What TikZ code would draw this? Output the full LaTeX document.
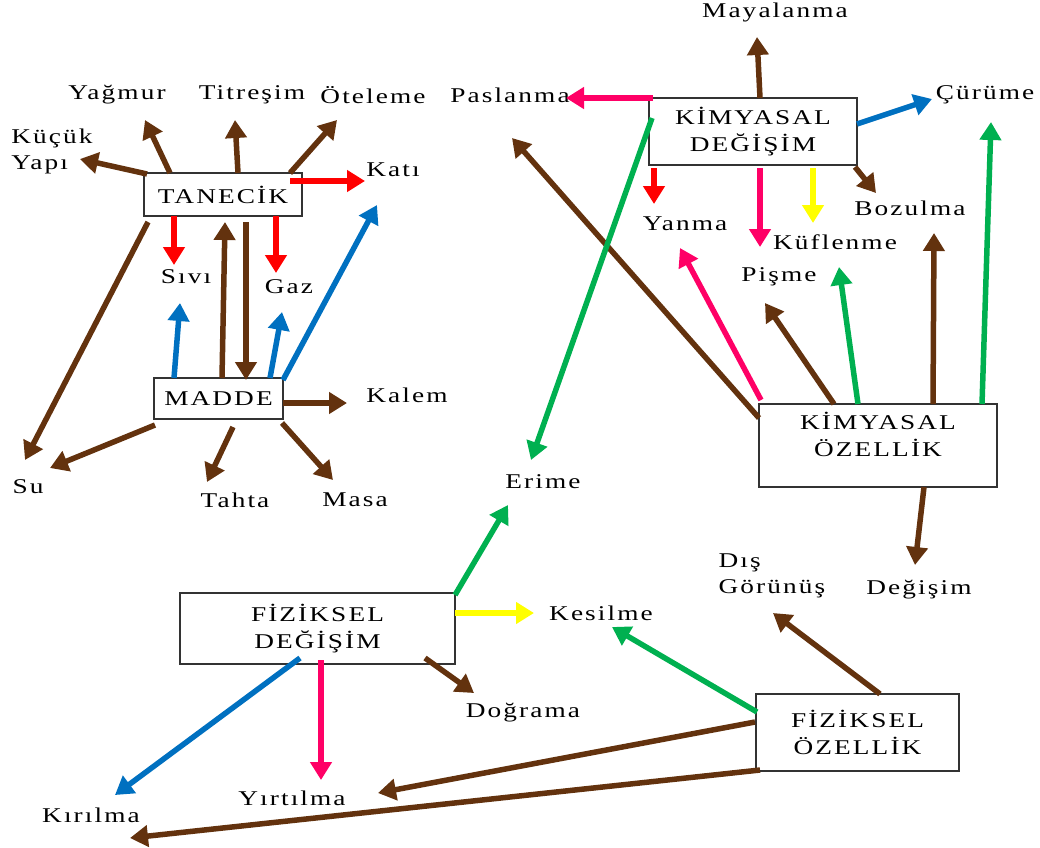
\documentclass[tikz,border=0pt]{standalone}
\usepackage{fontspec}
\setmainfont{Liberation Serif}[FakeStretch=1.3,LetterSpace=10]
\usetikzlibrary{arrows.meta}
\definecolor{cBrown}{RGB}{99,50,14}
\definecolor{cRed}{RGB}{255,0,0}
\definecolor{cPink}{RGB}{255,0,102}
\definecolor{cBlue}{RGB}{0,112,192}
\definecolor{cGreen}{RGB}{0,176,80}
\definecolor{cYellow}{RGB}{255,255,0}

\begin{document}
\begin{tikzpicture}[x=1pt,y=-1pt] %% kavram haritasi
	\tikzstyle{box}=[rectangle,draw=black!80,line width=1.3pt,fill=white,align=center,inner sep=0pt,font=\fontsize{21}{27}\selectfont];
	\tikzstyle{word}=[inner sep=0pt,align=left,font=\fontsize{21}{26}\selectfont];
	\tikzstyle{link}=[line width=5.5pt,-{Triangle[length=18pt,width=21pt]}];
	\useasboundingbox (0,0) rectangle (1040,847);
	%% kutular
	\node[box,minimum width=158,minimum height=43] (tanecik) at (223,194.5) {TANECİK};
	\node[box,minimum width=129,minimum height=41] (madde) at (218.5,398.5) {MADDE};
	\node[box,minimum width=208,minimum height=67] (kimdeg) at (753,131.5) {KİMYASAL\\DEĞİŞİM};
	\node[box,minimum width=238,minimum height=83,text depth=22pt] (kimoz) at (878,445.5) {KİMYASAL\\ÖZELLİK};
	\node[box,minimum width=275,minimum height=71] (fizdeg) at (317.5,628.5) {FİZİKSEL\\DEĞİŞİM};
	\node[box,minimum width=203,minimum height=77] (fizoz) at (857.5,732.5) {FİZİKSEL\\ÖZELLİK};
	%% kavramlar
	\node[word] (yagmur) at (117,95) {Yağmur};
	\node[word] (titresim) at (252,95) {Titreşim};
	\node[word] (oteleme) at (373,95) {Öteleme};
	\node[word] (kucuk) at (52,151.5) {Küçük\\Yapı};
	\node[word] (kati) at (393,170) {Katı};
	\node[word] (sivi) at (186,277) {Sıvı};
	\node[word] (gaz) at (289,287) {Gaz};
	\node[word] (kalem) at (407,395) {Kalem};
	\node[word] (su) at (28,487) {Su};
	\node[word] (tahta) at (235,500) {Tahta};
	\node[word] (masa) at (355,500) {Masa};
	\node[word] (mayalanma) at (775,12) {Mayalanma};
	\node[word] (paslanma) at (510,95) {Paslanma};
	\node[word] (curume) at (985,95) {Çürüme};
	\node[word] (yanma) at (685,224) {Yanma};
	\node[word] (kuflenme) at (835,242) {Küflenme};
	\node[word] (bozulma) at (910,208) {Bozulma};
	\node[word] (pisme) at (779,277) {Pişme};
	\node[word] (erime) at (543,482) {Erime};
	\node[word] (degisim) at (919,590) {Değişim};
	\node[word] (dis) at (772,575.5) {Dış\\Görünüş};
	\node[word] (kesilme) at (601,613) {Kesilme};
	\node[word] (dograma) at (523,713) {Doğrama};
	\node[word] (yirtilma) at (292,798) {Yırtılma};
	\node[word] (kirilma) at (91,815) {Kırılma};
	%% kahverengi oklar
	\draw[link,cBrown] ([shift={(-53,-21.5)}]tanecik.center) -- ([shift={(28,25)}]yagmur.center);
	\draw[link,cBrown] ([shift={(15,-21.5)}]tanecik.center) -- ([shift={(-17,25)}]titresim.center);
	\draw[link,cBrown] ([shift={(67,-21.5)}]tanecik.center) -- ([shift={(-36,25)}]oteleme.center);
	\draw[link,cBrown] ([shift={(-76,-20.5)}]tanecik.center) -- ([shift={(28,7.5)}]kucuk.center);
	\draw[link,cBrown] ([shift={(-75,27.5)}]tanecik.center) -- ([shift={(-3,-27)}]su.center);
	\draw[link,cBrown] ([shift={(3.5,-20.5)}]madde.center) -- ([shift={(2,27.5)}]tanecik.center);
	\draw[link,cBrown] ([shift={(23,27.5)}]tanecik.center) -- ([shift={(27.5,-18.5)}]madde.center);
	\draw[link,cBrown] ([shift={(64.5,4.5)}]madde.center) -- ([shift={(-60,8)}]kalem.center);
	\draw[link,cBrown] ([shift={(-63.5,26.5)}]madde.center) -- ([shift={(22,-19)}]su.center);
	\draw[link,cBrown] ([shift={(14.5,28.5)}]madde.center) -- ([shift={(-28,-18)}]tahta.center);
	\draw[link,cBrown] ([shift={(63.5,24.5)}]madde.center) -- ([shift={(-22,-20)}]masa.center);
	\draw[link,cBrown] ([shift={(7,-33.5)}]kimdeg.center) -- ([shift={(-18,25)}]mayalanma.center);
	\draw[link,cBrown] ([shift={(102,35.5)}]kimdeg.center) -- ([shift={(-34,-15)}]bozulma.center);
	\draw[link,cBrown] ([shift={(-119,-27.5)}]kimoz.center) -- ([shift={(2,43)}]paslanma.center);
	\draw[link,cBrown] ([shift={(-44,-41.5)}]kimoz.center) -- ([shift={(-14,26)}]pisme.center);
	\draw[link,cBrown] ([shift={(55,-41.5)}]kimoz.center) -- ([shift={(24,25)}]bozulma.center);
	\draw[link,cBrown] ([shift={(46,41.5)}]kimoz.center) -- ([shift={(-4,-25)}]degisim.center);
	\draw[link,cBrown] ([shift={(107.5,29.5)}]fizdeg.center) -- ([shift={(-49,-20)}]dograma.center);
	\draw[link,cBrown] ([shift={(22.5,-38.5)}]fizoz.center) -- ([shift={(1,37.5)}]dis.center);
	\draw[link,cBrown] ([shift={(-102.5,-10.5)}]fizoz.center) -- ([shift={(86,-5)}]yirtilma.center);
	\draw[link,cBrown] ([shift={(-97.5,37.5)}]fizoz.center) -- ([shift={(39,23)}]kirilma.center);
	%% kirmizi oklar
	\draw[link,cRed] ([shift={(67,-13.5)}]tanecik.center) -- ([shift={(-28,11)}]kati.center);
	\draw[link,cRed] ([shift={(-49,21.5)}]tanecik.center) -- ([shift={(-12,-12)}]sivi.center);
	\draw[link,cRed] ([shift={(53,21.5)}]tanecik.center) -- ([shift={(-13,-14)}]gaz.center);
	\draw[link,cRed] ([shift={(-99,36.5)}]kimdeg.center) -- ([shift={(-31,-20)}]yanma.center);
	%% mavi oklar
	\draw[link,cBlue] ([shift={(-44.5,-20.5)}]madde.center) -- ([shift={(-6,26)}]sivi.center);
	\draw[link,cBlue] ([shift={(51.5,-20.5)}]madde.center) -- ([shift={(-7,25)}]gaz.center);
	\draw[link,cBlue] ([shift={(64.5,-18.5)}]madde.center) -- ([shift={(-16,35)}]kati.center);
	\draw[link,cBlue] ([shift={(104,-7.5)}]kimdeg.center) -- ([shift={(-53,4)}]curume.center);
	\draw[link,cBlue] ([shift={(-17.5,29.5)}]fizdeg.center) -- ([shift={(24,-20)}]kirilma.center);
	%% pembe oklar
	\draw[link,cPink] ([shift={(-100,-33.5)}]kimdeg.center) -- ([shift={(56,3)}]paslanma.center);
	\draw[link,cPink] ([shift={(7,36.5)}]kimdeg.center) -- ([shift={(-75,5)}]kuflenme.center);
	\draw[link,cPink] ([shift={(-117,-45.5)}]kimoz.center) -- ([shift={(-5,24)}]yanma.center);
	\draw[link,cPink] ([shift={(3.5,31.5)}]fizdeg.center) -- ([shift={(29,-18)}]yirtilma.center);
	%% sari oklar
	\draw[link,cYellow] ([shift={(60,36.5)}]kimdeg.center) -- ([shift={(-22,-19)}]kuflenme.center);
	\draw[link,cYellow] ([shift={(137.5,-15.5)}]fizdeg.center) -- ([shift={(-67,0)}]kesilme.center);
	%% yesil oklar
	\draw[link,cGreen] ([shift={(-101,-13.5)}]kimdeg.center) -- ([shift={(-12,-22)}]erime.center);
	\draw[link,cGreen] ([shift={(-20,-41.5)}]kimoz.center) -- ([shift={(4,25)}]kuflenme.center);
	\draw[link,cGreen] ([shift={(104,-41.5)}]kimoz.center) -- ([shift={(6,27)}]curume.center);
	\draw[link,cGreen] ([shift={(137.5,-33.5)}]fizdeg.center) -- ([shift={(-35,23)}]erime.center);
	\draw[link,cGreen] ([shift={(-100.5,-20.5)}]fizoz.center) -- ([shift={(11,14)}]kesilme.center);
\end{tikzpicture}
\end{document}
